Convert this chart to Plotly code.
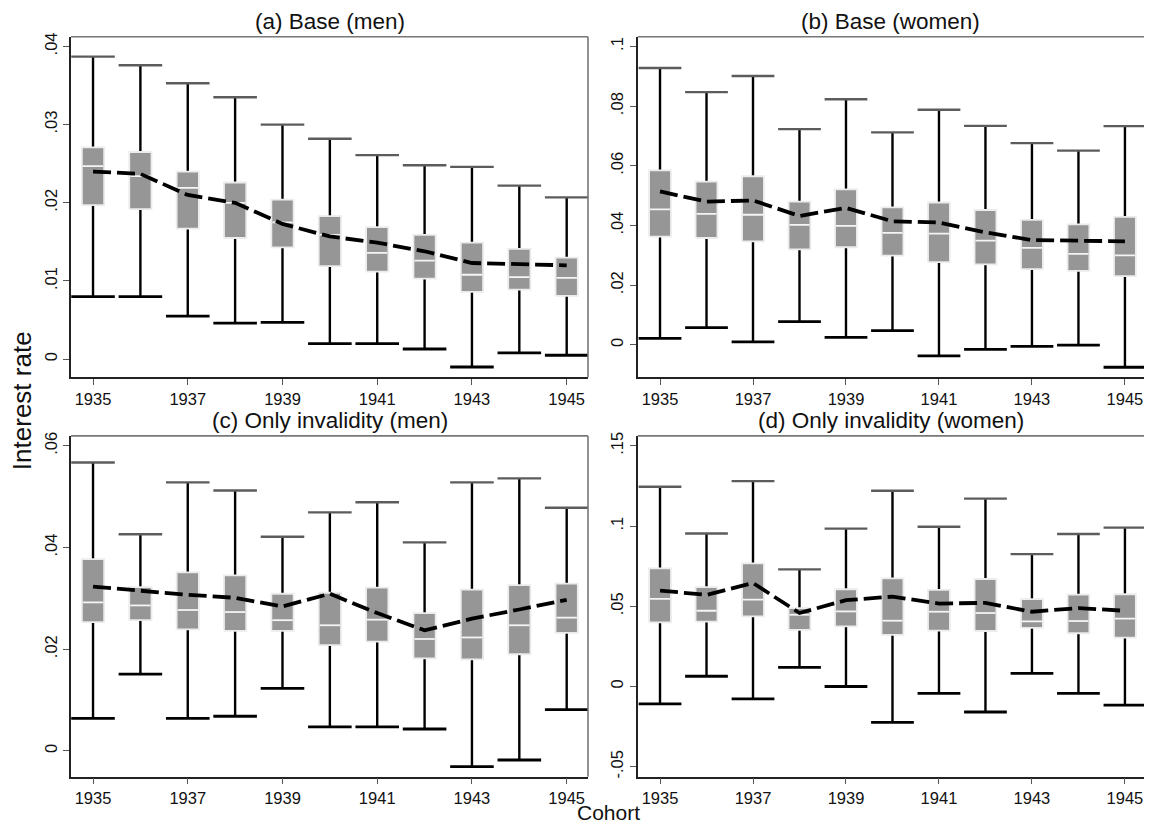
import plotly.graph_objects as go

cohorts = [1935, 1936, 1937, 1938, 1939, 1940, 1941, 1942, 1943, 1944, 1945]

titles = ["(a) Base (men)", "(b) Base (women)",
          "(c) Only invalidity (men)", "(d) Only invalidity (women)"]

# panel (a) Base (men)
a_hi = [0.0387, 0.0376, 0.0353, 0.0335, 0.0300, 0.0282, 0.0261, 0.0248, 0.0246, 0.0222, 0.0207]
a_q3 = [0.0271, 0.0265, 0.0240, 0.0226, 0.0204, 0.0183, 0.0169, 0.0159, 0.0149, 0.0141, 0.0130]
a_med = [0.0247, 0.0234, 0.0219, 0.0200, 0.0175, 0.0159, 0.0136, 0.0126, 0.0108, 0.0105, 0.0104]
a_q1 = [0.0197, 0.0192, 0.0167, 0.0155, 0.0143, 0.0119, 0.0112, 0.0103, 0.0086, 0.0089, 0.0081]
a_lo = [0.0080, 0.0080, 0.0055, 0.0046, 0.0047, 0.0020, 0.0020, 0.0013, -0.0010, 0.0008, 0.0005]
a_mean = [0.0240, 0.0237, 0.0210, 0.0200, 0.0173, 0.0157, 0.0149, 0.0138, 0.0123, 0.0121, 0.0120]

# panel (b) Base (women)
b_hi = [0.0928, 0.0847, 0.0901, 0.0723, 0.0823, 0.0712, 0.0788, 0.0734, 0.0676, 0.0651, 0.0733]
b_q3 = [0.0585, 0.0547, 0.0565, 0.0480, 0.0521, 0.0461, 0.0477, 0.0452, 0.0419, 0.0404, 0.0429]
b_med = [0.0454, 0.0439, 0.0436, 0.0402, 0.0399, 0.0375, 0.0373, 0.0349, 0.0325, 0.0305, 0.0300]
b_q1 = [0.0363, 0.0358, 0.0347, 0.0320, 0.0327, 0.0299, 0.0277, 0.0270, 0.0254, 0.0248, 0.0230]
b_lo = [0.0022, 0.0058, 0.0010, 0.0078, 0.0025, 0.0048, -0.0037, -0.0015, -0.0005, -0.0001, -0.0075]
b_mean = [0.0514, 0.0480, 0.0484, 0.0432, 0.0459, 0.0414, 0.0410, 0.0377, 0.0351, 0.0348, 0.0347]

# panel (c) Only invalidity (men)
c_hi = [0.0567, 0.0426, 0.0528, 0.0512, 0.0421, 0.0469, 0.0489, 0.0410, 0.0528, 0.0536, 0.0478]
c_q3 = [0.0377, 0.0322, 0.0351, 0.0345, 0.0309, 0.0311, 0.0321, 0.0271, 0.0317, 0.0326, 0.0329]
c_med = [0.0292, 0.0286, 0.0277, 0.0273, 0.0257, 0.0247, 0.0258, 0.0220, 0.0223, 0.0247, 0.0262]
c_q1 = [0.0253, 0.0257, 0.0239, 0.0236, 0.0236, 0.0208, 0.0215, 0.0182, 0.0180, 0.0190, 0.0232]
c_lo = [0.0064, 0.0151, 0.0064, 0.0068, 0.0123, 0.0047, 0.0047, 0.0043, -0.0031, -0.0018, 0.0081]
c_mean = [0.0323, 0.0315, 0.0307, 0.0301, 0.0284, 0.0309, 0.0271, 0.0237, 0.0260, 0.0278, 0.0297]

# panel (d) Only invalidity (women)
d_hi = [0.1245, 0.0954, 0.1280, 0.0730, 0.0984, 0.1220, 0.0996, 0.1171, 0.0825, 0.0950, 0.0990]
d_q3 = [0.0736, 0.0619, 0.0767, 0.0489, 0.0606, 0.0674, 0.0602, 0.0670, 0.0544, 0.0573, 0.0575]
d_med = [0.0546, 0.0472, 0.0542, 0.0447, 0.0468, 0.0410, 0.0466, 0.0458, 0.0406, 0.0408, 0.0423]
d_q1 = [0.0400, 0.0404, 0.0437, 0.0353, 0.0375, 0.0322, 0.0348, 0.0346, 0.0365, 0.0332, 0.0305]
d_lo = [-0.0108, 0.0064, -0.0077, 0.0119, 0.0000, -0.0223, -0.0043, -0.0159, 0.0082, -0.0043, -0.0116]
d_mean = [0.0598, 0.0571, 0.0645, 0.0458, 0.0538, 0.0560, 0.0517, 0.0521, 0.0466, 0.0489, 0.0472]

yticks = [
    ([0, 0.01, 0.02, 0.03, 0.04], ["0", ".01", ".02", ".03", ".04"]),
    ([0, 0.02, 0.04, 0.06, 0.08, 0.1], ["0", ".02", ".04", ".06", ".08", ".1"]),
    ([0, 0.02, 0.04, 0.06], ["0", ".02", ".04", ".06"]),
    ([-0.05, 0, 0.05, 0.1, 0.15], ["-.05", "0", ".05", ".1", ".15"]),
]
yranges = [[-0.00232, 0.04123], [-0.01088, 0.10323], [-0.00508, 0.06195], [-0.0562, 0.1562]]
xticks = [1935, 1937, 1939, 1941, 1943, 1945]

panels = [
    (a_hi, a_q3, a_med, a_q1, a_lo, a_mean),
    (b_hi, b_q3, b_med, b_q1, b_lo, b_mean),
    (c_hi, c_q3, c_med, c_q1, c_lo, c_mean),
    (d_hi, d_q3, d_med, d_q1, d_lo, d_mean),
]

# geometry: the page has an 8px body margin; keep the figure inside the window
W, H = 1136, 821
xdoms = [[63 / W, 580 / W], [629.7 / W, 1.0]]
ydoms = [[1 - 368 / H, 1 - 25 / H], [1 - 770.3 / H, 1 - 427 / H]]
xranges = [[1934.535, 1945.45], [1934.52, 1945.41]]

CAP = 0.46
BOX = 0.235
MED = 0.215


def hseg(xs, ys, half):
    X, Y = [], []
    for x, y in zip(xs, ys):
        X += [x - half, x + half, None]
        Y += [y, y, None]
    return X, Y


def vseg(xs, lo, hi):
    X, Y = [], []
    for x, l, h in zip(xs, lo, hi):
        X += [x, x, None]
        Y += [l, h, None]
    return X, Y


def rects(xs, lo, hi, half):
    X, Y = [], []
    for x, l, h in zip(xs, lo, hi):
        X += [x - half, x + half, x + half, x - half, x - half, None]
        Y += [l, l, h, h, l, None]
    return X, Y


fig = go.Figure()
font = "Liberation Sans, Arial, sans-serif"

for i, (hi, q3, med, q1, lo, mean) in enumerate(panels):
    r, c = divmod(i, 2)
    k = i + 1
    xa = "x" if k == 1 else f"x{k}"
    ya = "y" if k == 1 else f"y{k}"

    X, Y = vseg(cohorts, lo, hi)
    fig.add_trace(go.Scatter(x=X, y=Y, mode="lines", line=dict(color="black", width=2.4),
                             xaxis=xa, yaxis=ya, hoverinfo="skip", showlegend=False))
    X, Y = hseg(cohorts, hi, CAP)
    fig.add_trace(go.Scatter(x=X, y=Y, mode="lines", line=dict(color="#5c5c5c", width=2.4),
                             xaxis=xa, yaxis=ya, hoverinfo="skip", showlegend=False))
    X, Y = hseg(cohorts, lo, CAP)
    fig.add_trace(go.Scatter(x=X, y=Y, mode="lines", line=dict(color="black", width=2.8),
                             xaxis=xa, yaxis=ya, hoverinfo="skip", showlegend=False))
    X, Y = rects(cohorts, q1, q3, BOX)
    fig.add_trace(go.Scatter(x=X, y=Y, mode="lines", fill="toself", fillcolor="#969696",
                             line=dict(color="#ececec", width=1.8),
                             xaxis=xa, yaxis=ya, hoverinfo="skip", showlegend=False))
    X, Y = hseg(cohorts, med, MED)
    fig.add_trace(go.Scatter(x=X, y=Y, mode="lines", line=dict(color="#f4f4f4", width=1.8),
                             xaxis=xa, yaxis=ya, hoverinfo="skip", showlegend=False))
    fig.add_trace(go.Scatter(x=cohorts, y=mean, mode="lines",
                             line=dict(color="black", width=3.8, dash="18px,6px"),
                             xaxis=xa, yaxis=ya, hoverinfo="skip", showlegend=False))

    tv, tt = yticks[i]
    fig.layout[f"xaxis{'' if k == 1 else k}"] = dict(
        domain=xdoms[c], range=xranges[c], anchor=ya,
        tickvals=xticks, ticktext=[str(t) for t in xticks],
        ticks="outside", ticklen=6, tickwidth=1.2, tickcolor="#555",
        showline=True, linecolor="#222", linewidth=1.6, mirror=False,
        showgrid=False, zeroline=False,
        tickfont=dict(family=font, size=16.5, color="#111"),
    )
    fig.layout[f"yaxis{'' if k == 1 else k}"] = dict(
        domain=ydoms[r], range=yranges[i], anchor=xa,
        tickvals=tv, ticktext=tt, tickangle=-90,
        ticks="outside", ticklen=6, tickwidth=1.2, tickcolor="#555",
        showline=True, linecolor="#222", linewidth=1.6, mirror=False,
        showgrid=False, zeroline=False,
        tickfont=dict(family=font, size=16.5, color="#111"),
    )
    # top and right frame lines
    fig.add_shape(type="line", xref=f"{xa} domain", yref=f"{ya} domain",
                  x0=0, x1=1, y0=1, y1=1, line=dict(color="#777", width=1.6))
    if c == 0:
        fig.add_shape(type="line", xref=f"{xa} domain", yref=f"{ya} domain",
                      x0=1, x1=1, y0=0, y1=1, line=dict(color="#777", width=1.6))
    # panel title
    fig.add_annotation(text=titles[i], xref=f"{xa} domain", yref=f"{ya} domain",
                       x=0.5, y=1.0, yshift=1, xanchor="center", yanchor="bottom",
                       showarrow=False, font=dict(family=font, size=22.5, color="#111"))

fig.add_annotation(text="Interest rate", xref="paper", yref="paper", x=14 / W, y=1 - 392 / H,
                   textangle=-90, showarrow=False, xanchor="center", yanchor="middle",
                   font=dict(family=font, size=26, color="#111"))
fig.add_annotation(text="Cohort", xref="paper", yref="paper", x=600 / W, y=1 - 806.5 / H,
                   showarrow=False, xanchor="center", yanchor="middle",
                   font=dict(family=font, size=21, color="#111"))

fig.update_layout(width=W, height=H, margin=dict(l=0, r=0, t=0, b=0),
                  paper_bgcolor="white", plot_bgcolor="white", showlegend=False)

fig.write_html("out.html")
